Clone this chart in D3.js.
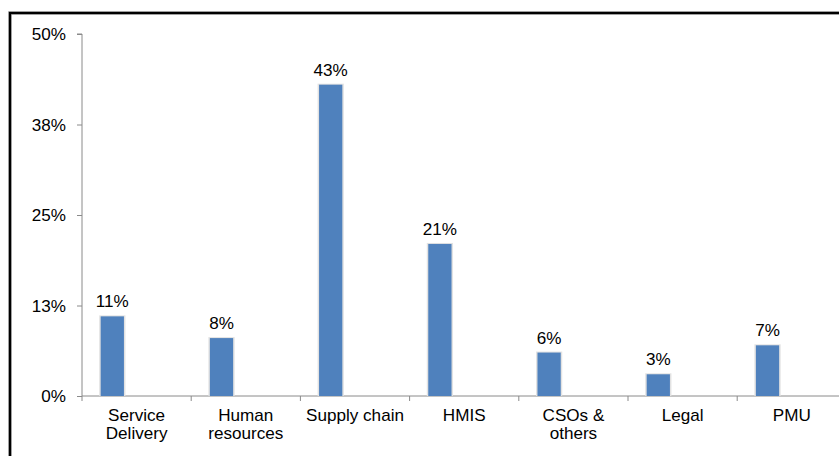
<!DOCTYPE html>
<html>
<head>
<meta charset="utf-8">
<script src="https://cdn.jsdelivr.net/npm/d3@7"></script>
<style>
  html, body { margin: 0; padding: 0; background: #fff; }
  svg { display: block; }
  text { font-family: "Liberation Sans", Arial, sans-serif; fill: #000; }
</style>
</head>
<body>
<svg id="chart" width="839" height="456"></svg>
<script>
// Share of items by area (percent)
const categories = ["Service\nDelivery", "Human\nresources", "Supply chain", "HMIS", "CSOs &\nothers", "Legal", "PMU"];
const values = [11, 8, 43, 21, 6, 3, 7];
const yTickValues = [0, 12.5, 25, 37.5, 50];
const yTickLabels = ["0%", "13%", "25%", "38%", "50%"];

const svg = d3.select("#chart");
const W = 839, H = 456;

const x0 = 82, bandW = 109.2;
const y = d3.scaleLinear().domain([0, 50]).range([396, 34]);
const x = d3.scaleBand()
  .domain(categories)
  .range([x0, x0 + bandW * categories.length])
  .padding(0);

const axisColor = "#8a8a8a";
const barColor = "#4f81bd";
const fontSize = 16;
const stretch = 1.07;

// outer frame (extends past the right and bottom edges)
svg.append("rect")
  .attr("x", 10).attr("y", 13)
  .attr("width", W + 20).attr("height", H + 20)
  .attr("fill", "none")
  .attr("stroke", "#c8c8c8").attr("stroke-width", 4);
svg.append("rect")
  .attr("x", 10).attr("y", 13)
  .attr("width", W + 20).attr("height", H + 20)
  .attr("fill", "none")
  .attr("stroke", "#000").attr("stroke-width", 2.4);

// y axis
const yAxis = d3.axisLeft(y)
  .tickValues(yTickValues)
  .tickSize(5)
  .tickPadding(16)
  .tickFormat((d, i) => yTickLabels[i]);
const gy = svg.append("g").attr("transform", `translate(${x0},0)`).call(yAxis);
gy.select(".domain").attr("stroke", axisColor).attr("d", `M-5,${y(50)}H0V${y(0)}`);
gy.selectAll(".tick line").attr("stroke", axisColor);
gy.selectAll(".tick text")
  .attr("font-size", fontSize)
  .attr("font-family", "Liberation Sans, Arial, sans-serif")
  .attr("dy", "0.36em")
  .attr("transform", `scale(${stretch},1)`)
  .attr("x", -16 / stretch);

// x axis line and boundary ticks
const gx = svg.append("g");
gx.append("line")
  .attr("x1", x0).attr("x2", W + 20)
  .attr("y1", y(0)).attr("y2", y(0))
  .attr("stroke", axisColor);
const bounds = categories.map(c => x(c)).concat([x(categories[categories.length - 1]) + x.bandwidth()]);
gx.selectAll("line.bt").data(bounds).join("line")
  .attr("class", "bt")
  .attr("x1", d => d).attr("x2", d => d)
  .attr("y1", y(0)).attr("y2", y(0) + 5)
  .attr("stroke", axisColor);

// bars sit at the left of each category band
const barOff = 0.171 * x.bandwidth();
const barW = 0.213 * x.bandwidth();

const bars = svg.append("g");
bars.selectAll("rect.shadow").data(values).join("rect")
  .attr("class", "shadow")
  .attr("x", (d, i) => x(categories[i]) + barOff - 1.5)
  .attr("y", d => y(d) - 1)
  .attr("width", barW + 3)
  .attr("height", d => y(0) - y(d) + 1)
  .attr("fill", "#e2e2e2");
bars.selectAll("rect.bar").data(values).join("rect")
  .attr("class", "bar")
  .attr("x", (d, i) => x(categories[i]) + barOff)
  .attr("y", d => y(d))
  .attr("width", barW)
  .attr("height", d => y(0) - y(d))
  .attr("fill", barColor);

// value labels
svg.append("g").selectAll("text").data(values).join("text")
  .attr("transform", (d, i) => `translate(${x(categories[i]) + barOff + barW / 2},${y(d) - 9}) scale(${stretch},1)`)
  .attr("text-anchor", "middle")
  .attr("font-size", fontSize)
  .text(d => d + "%");

// category labels
const cl = svg.append("g").selectAll("g").data(categories).join("g")
  .attr("transform", d => `translate(${x(d) + x.bandwidth() / 2},${y(0) + 25}) scale(${stretch},1)`);
cl.each(function(d) {
  const lines = d.split("\n");
  d3.select(this).selectAll("text").data(lines).join("text")
    .attr("text-anchor", "middle")
    .attr("font-size", fontSize)
    .attr("y", (l, j) => j * 18)
    .text(l => l);
});
</script>
</body>
</html>
